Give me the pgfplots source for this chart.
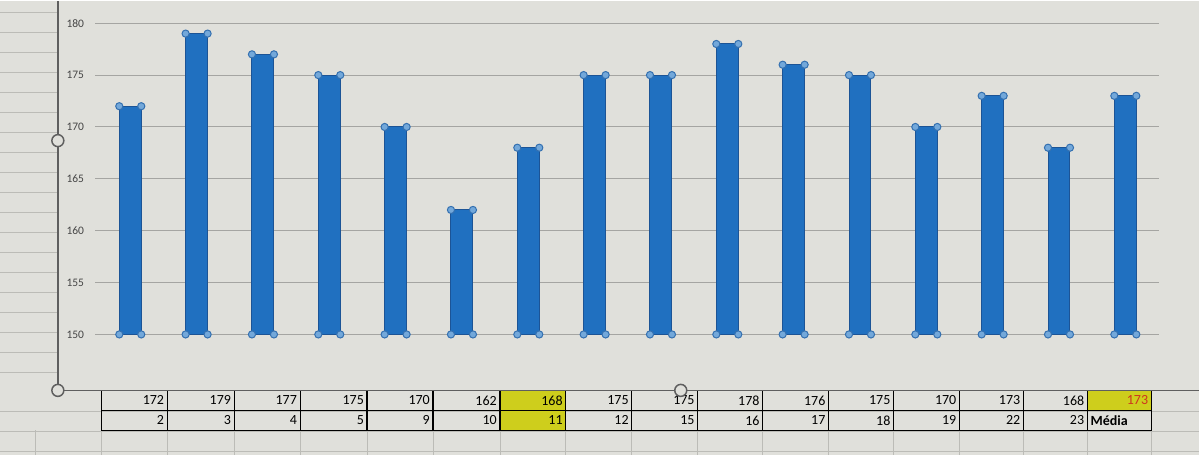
\documentclass[border=0pt]{standalone}
\usepackage{pgfplots}
\pgfplotsset{compat=1.18}
\usepackage{pgfplotstable}
\usepackage{fontspec}
\setmainfont{Carlito}
\definecolor{bg}{RGB}{224,224,219}
\definecolor{sheetline}{RGB}{188,188,183}
\definecolor{borderc}{RGB}{95,95,95}
\definecolor{gridc}{RGB}{165,165,162}
\definecolor{barfill}{RGB}{32,112,192}
\definecolor{baredge}{RGB}{28,84,150}
\definecolor{mkfill}{RGB}{115,168,218}
\definecolor{mkedge}{RGB}{52,112,176}
\definecolor{yellowc}{RGB}{206,206,28}
\definecolor{redtxt}{RGB}{205,55,30}
\definecolor{ticktxt}{RGB}{70,70,70}

\pgfplotstableread{
col v
1 172
2 179
3 177
4 175
5 170
6 162
7 168
8 175
9 175
10 178
11 176
12 175
13 170
14 173
15 168
16 173
}\heights

\begin{document}
\begin{tikzpicture}
% ---------- background layer: sheet, chart border, table (pixel coordinates) ----------
\begin{axis}[at={(0,0)}, anchor=south west, scale only axis,
  width=1200pt, height=455pt,
  xmin=0, xmax=1200, ymin=0, ymax=455, y dir=reverse,
  hide axis, clip=false]
  \fill[bg] (axis cs:0,0) rectangle (axis cs:1200,455);
  % spreadsheet cell lines left of chart
  \pgfplotsinvokeforeach{0,...,18}{
    \draw[sheetline, line width=0.8pt] (axis cs:0,{11.7+20*#1}) -- (axis cs:57,{11.7+20*#1});
  }
  % spreadsheet cell lines below chart
  \pgfplotsinvokeforeach{411,431,451}{
    \draw[sheetline, line width=0.8pt] (axis cs:0,#1) -- (axis cs:1200,#1);
  }
  \pgfplotsinvokeforeach{35,101,167,234,300,367,433,500,566,632,698,763,829,894,960,1024,1088,1152}{
    \draw[sheetline, line width=0.8pt] (axis cs:#1,430) -- (axis cs:#1,455);
  }
  % yellow cells
  \fill[yellowc] (axis cs:500,390) rectangle (axis cs:566,430);
  \fill[yellowc] (axis cs:1088,390) rectangle (axis cs:1152,410);
  % table grid
  \draw[black, line width=1.4pt] (axis cs:101,390) rectangle (axis cs:1152,430);
  \draw[black, line width=1.2pt] (axis cs:101,410) -- (axis cs:1152,410);
  \pgfplotsinvokeforeach{167,234,300,367,433,500,566,632,698,763,829,894,960,1024,1088}{
    \draw[black, line width=1.2pt] (axis cs:#1,390) -- (axis cs:#1,430);
  }
  % chart area border
  \draw[borderc, line width=1.5pt] (axis cs:57.5,0) -- (axis cs:57.5,390) -- (axis cs:1200,390);
  % table text
  \begin{scope}[every node/.style={anchor=east, inner sep=0pt, font=\fontsize{14}{16}\selectfont}]
  \node at (axis cs:164,400) {172};
  \node at (axis cs:231,400) {179};
  \node at (axis cs:297,400) {177};
  \node at (axis cs:364,400) {175};
  \node at (axis cs:430,400) {170};
  \node at (axis cs:497,400) {162};
  \node at (axis cs:563,400) {168};
  \node at (axis cs:629,400) {175};
  \node at (axis cs:695,400) {175};
  \node at (axis cs:760,400) {178};
  \node at (axis cs:826,400) {176};
  \node at (axis cs:891,400) {175};
  \node at (axis cs:957,400) {170};
  \node at (axis cs:1021,400) {173};
  \node at (axis cs:1085,400) {168};
  \node[text=redtxt] at (axis cs:1149,400) {173};
  \node at (axis cs:164,420) {2};
  \node at (axis cs:231,420) {3};
  \node at (axis cs:297,420) {4};
  \node at (axis cs:364,420) {5};
  \node at (axis cs:430,420) {9};
  \node at (axis cs:497,420) {10};
  \node at (axis cs:563,420) {11};
  \node at (axis cs:629,420) {12};
  \node at (axis cs:695,420) {15};
  \node at (axis cs:760,420) {16};
  \node at (axis cs:826,420) {17};
  \node at (axis cs:891,420) {18};
  \node at (axis cs:957,420) {19};
  \node at (axis cs:1021,420) {22};
  \node at (axis cs:1085,420) {23};
  \node[anchor=west] at (axis cs:1091,420) {\bfseries Média};
  \end{scope}
  % selection handles
  \addplot[only marks, mark=*, mark size=6pt,
    mark options={draw=borderc, fill=bg, line width=1.5pt}]
    coordinates {(57.5,140) (57.5,390) (681,390)};
\end{axis}
% ---------- plot area ----------
\begin{axis}[at={(95pt,121pt)}, anchor=south west, scale only axis,
  width=1065pt, height=311.5pt,
  xmin=0.4729, xmax=16.512, ymin=150, ymax=180,
  axis line style={draw=none}, major tick length=0pt,
  xtick=\empty, ytick={150,155,...,180},
  /pgf/number format/assume math mode=true,
  ymajorgrids, grid style={gridc, line width=1pt},
  yticklabel style={anchor=center, xshift=-20pt, text=ticktxt,
    font=\fontsize{11.5}{13}\selectfont}]
  \addplot[ybar, bar width=22pt, fill=barfill, draw=baredge, line width=1pt]
    table[x=col, y=v] {\heights};
  \addplot[only marks, mark=*, mark size=3.6pt, xshift=-11pt,
    mark options={fill=mkfill, draw=mkedge, line width=1pt}]
    table[x=col, y=v] {\heights};
  \addplot[only marks, mark=*, mark size=3.6pt, xshift=11pt,
    mark options={fill=mkfill, draw=mkedge, line width=1pt}]
    table[x=col, y=v] {\heights};
  \addplot[only marks, mark=*, mark size=3.6pt, xshift=-11pt,
    mark options={fill=mkfill, draw=mkedge, line width=1pt}]
    table[x=col, y expr=150] {\heights};
  \addplot[only marks, mark=*, mark size=3.6pt, xshift=11pt,
    mark options={fill=mkfill, draw=mkedge, line width=1pt}]
    table[x=col, y expr=150] {\heights};
\end{axis}
\end{tikzpicture}
\end{document}
